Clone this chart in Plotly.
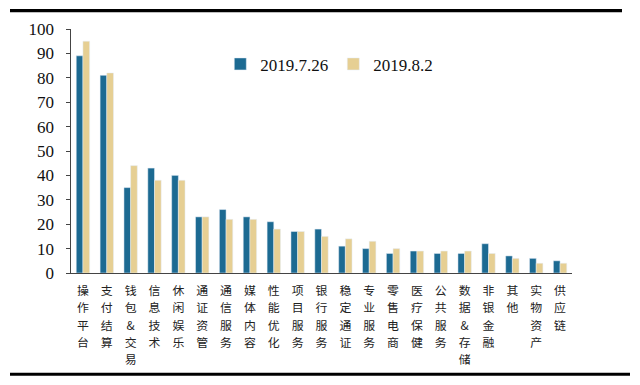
import plotly.graph_objects as go

categories = ["操作平台", "支付结算", "钱包&交易", "信息技术", "休闲娱乐", "通证资管", "通信服务",
              "媒体内容", "性能优化", "项目服务", "银行服务", "稳定通证", "专业服务", "零售电商",
              "医疗保健", "公共服务", "数据&存储", "非银金融", "其他", "实物资产", "供应链"]
series_0726 = [89, 81, 35, 43, 40, 23, 26, 23, 21, 17, 18, 11, 10, 8, 9, 8, 8, 12, 7, 6, 5]
series_0802 = [95, 82, 44, 38, 38, 23, 22, 22, 18, 17, 15, 14, 13, 10, 9, 9, 9, 8, 6, 4, 4]
y_ticks = [0, 10, 20, 30, 40, 50, 60, 70, 80, 90, 100]

# vertical (stacked) category labels
tick_text = ['<span style="font-size:11.9px">' + "<br>".join(list(c)) + "</span>" for c in categories]

BLUE = "#1c6a92"
TAN = "#e6cf93"
SERIF = "Liberation Serif, Times New Roman, DejaVu Serif, serif"

fig = go.Figure()
fig.add_trace(go.Bar(x=categories, y=series_0726, name="2019.7.26", marker_color=BLUE))
fig.add_trace(go.Bar(x=categories, y=series_0802, name="2019.8.2", marker_color=TAN))

# The page body keeps its default 8px margin, so the figure is drawn 8px in from
# the top-left corner of the window; size it to fill the rest.
W, H = 632, 377
L, T, R, B = 63, 19, 68, 112
PH = H - T - B  # plot height in px
PW = W - L - R  # plot width in px

def py(pix):
    # figure pixel row -> paper y
    return (H - B - pix) / PH

def px(pix):
    # figure pixel column -> paper x
    return (pix - L) / PW

fig.update_layout(
    width=W, height=H,
    margin=dict(l=L, r=R, t=T, b=B, pad=0),
    paper_bgcolor="white", plot_bgcolor="white",
    barmode="group", bargap=0.44, bargroupgap=0,
    font=dict(family=SERIF, color="#111111"),
    showlegend=True,
    legend=dict(orientation="h", x=0.298, y=0.855, xanchor="left", yanchor="middle",
                font=dict(family=SERIF, size=17, color="#111111"),
                itemwidth=30, bgcolor="rgba(0,0,0,0)"),
    xaxis=dict(tickmode="array", tickvals=categories, ticktext=tick_text,
               tickfont=dict(family="Noto Sans CJK SC", size=13.3, color="#222222"),
               showline=True, linecolor="#444444", linewidth=1,
               ticks="outside", ticklen=5, tickcolor="rgba(0,0,0,0)",
               range=[-0.5, 20.5], showgrid=False, tickangle=0),
    yaxis=dict(range=[0, 100], tickmode="array", tickvals=y_ticks,
               ticktext=[f"{v}  " for v in y_ticks],
               tickfont=dict(family=SERIF, size=17, color="#111111"),
               showline=True, linecolor="#444444", linewidth=1, ticks="outside",
               ticklen=4, tickcolor="#444444",
               showgrid=False, zeroline=False),
    shapes=[
        dict(type="line", xref="paper", yref="paper",
             x0=px(2), x1=px(614), y0=py(0.5), y1=py(0.5),
             line=dict(color="black", width=3)),
        dict(type="line", xref="paper", yref="paper",
             x0=px(2), x1=px(622), y0=py(367), y1=py(367),
             line=dict(color="black", width=3)),
    ],
    annotations=[
        dict(xref="paper", yref="paper", x=px(2), y=py(-1), xanchor="left", yanchor="top",
             text=" ", showarrow=False, width=612, height=3, bgcolor="black",
             borderpad=0, borderwidth=0, font=dict(size=1)),
    ],
)

fig.write_html("out.html")
